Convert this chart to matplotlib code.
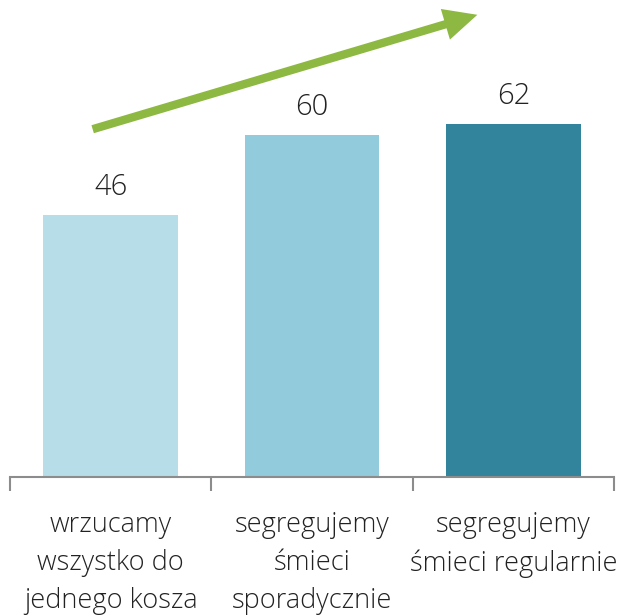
import matplotlib
matplotlib.use("Agg")
import matplotlib.pyplot as plt
from matplotlib.patches import FancyArrowPatch

categories = ["wrzucamy\nwszystko do\njednego kosza", "segregujemy\nśmieci\nsporadycznie", "segregujemy\nśmieci regularnie"]
values = [46, 60, 62]
colors = ["#B7DDE8", "#92CBDC", "#31849B"]

plt.rcParams['font.family'] = ['Open Sans', 'DejaVu Sans']

W, H = 619, 616
fig = plt.figure(figsize=(W/100, H/100), dpi=100)
ax = fig.add_axes([10/W, (H-477)/H, (614-10)/W, 477/H])

x = range(len(categories))
bars = ax.bar(x, values, width=0.67, color=colors)
ax.set_xlim(-0.5, 2.5)
ax.set_ylim(0, 83.7)
for xi, v in zip(x, values):
    ax.text(xi, v + 2.3, str(v), ha='center', va='bottom', fontsize=21, color='#222222',
            fontweight='light')

for s in ['top', 'right', 'left']:
    ax.spines[s].set_visible(False)
ax.spines['bottom'].set_color('#8c8c8c')
ax.spines['bottom'].set_linewidth(1.5)
ax.set_yticks([])
ax.set_xticks([-0.5, 0.5, 1.5, 2.5])
ax.set_xticklabels([])
ax.tick_params(axis='x', length=10, width=1.5, color='#8c8c8c', direction='out')
for xi, c in zip(x, categories):
    ax.text(xi, -6.0, c, ha='center', va='top', fontsize=19.5, color='#222222', linespacing=1.48,
            fontweight='light', transform=ax.transData, clip_on=False)

arrow = FancyArrowPatch((90/W, 1-130/H), (480/W, 1-14/H), transform=fig.transFigure,
                        arrowstyle='simple,head_width=2.3,head_length=2.4,tail_width=0.6',
                        mutation_scale=10, color='#8DB842', lw=0)
fig.patches.append(arrow)

fig.savefig("out.png", dpi=100)
